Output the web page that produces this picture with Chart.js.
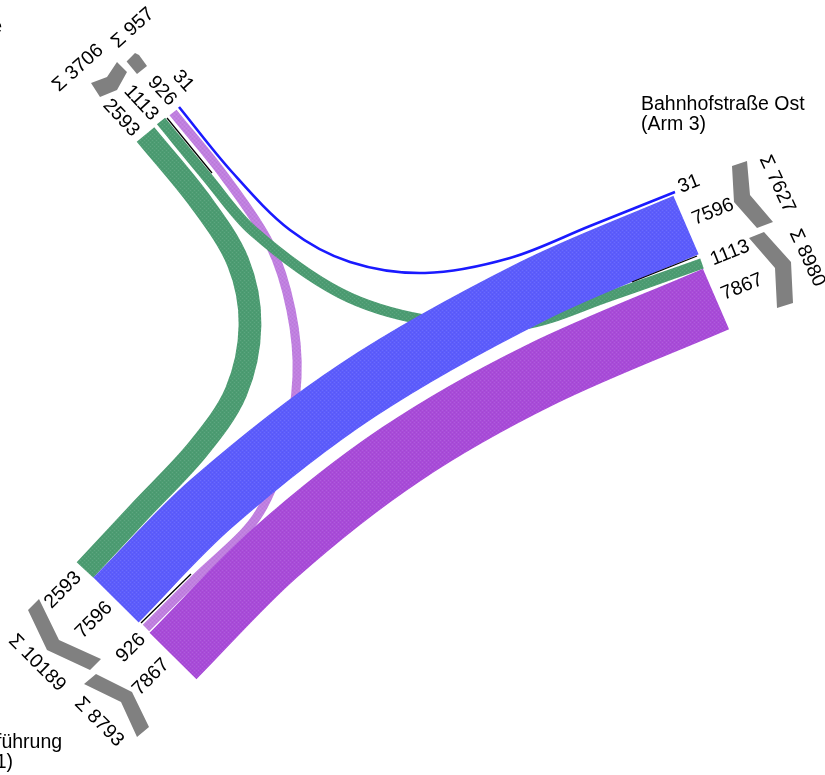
<!DOCTYPE html>
<html>
<head>
<meta charset="utf-8">
<title>Knotenstrom</title>
<script src="https://cdn.jsdelivr.net/npm/chart.js@4"></script>
<style>
  html, body { margin: 0; padding: 0; background: #fff; overflow: hidden; }
  canvas { display: block; }
</style>
</head>
<body>
<canvas id="flowChart" width="825" height="775"></canvas>
<script>
// Flow volumes, in drawing order (last one ends up on top)
const flowNames = ['Arm 2 - Arm 1 (926)', 'Arm 2 - Arm 3 (1113)', 'Arm 1 - Arm 2 (2593)', 'Arm 3 - Arm 2 (31)', 'Arm 3 - Arm 1 (7867)', 'Arm 1 - Arm 3 (7596)'];
const flowValues = [926, 1113, 2593, 31, 7867, 7596];
const flowColors = ['#c07fe0', '#4c9c72', '#4c9c72', '#1a1aff', '#a84bd8', '#5c5cfc'];

// Centre lines of the flows, in plot units
const route926 = [[173, 112.5], [225, 177], [270, 245], [291, 310], [297, 377], [285, 450], [256, 518], [195, 579], [146, 628]];
const route1113 = [[161, 121], [207, 177], [253, 231], [340, 293], [425, 320], [520, 325], [610, 296], [702, 263.5]];
const route2593 = [[145.5, 134.5], [200, 201], [238, 262], [250, 325], [236, 392], [198, 449], [140, 511], [85, 570]];
const route31 = [[179, 107], [232, 172], [290, 230], [350, 262], [425, 273], [510, 258], [590, 226], [675, 192]];
const route7867 = [[173, 656], [275, 553], [400, 455], [540, 375], [716, 299]];
const route7596 = [[116, 600], [212, 503], [358, 390], [533, 291], [686, 225]];
const flowRoutes = [route926, route1113, route2593, route31, route7867, route7596];

// Black separators between the directions of each arm
const separators = [
  [[167, 118], [212, 173]],
  [[141, 623], [191, 574]],
  [[632, 282], [697, 256]]
];

// Grey arm totals, outlines in plot units
const sumValues = [3706, 957, 7627, 8980, 10189, 8793];
const sumShapes = [
  [[91, 83], [107, 77], [117, 62], [127, 72], [117, 90], [100, 97]],
  [[126.6, 61.6], [135, 53], [139, 55], [147, 66], [137, 74]],
  [[732, 166], [747, 161], [750, 195], [773, 222], [757, 228], [734, 202]],
  [[749, 238], [764, 232], [791, 262], [793, 303], [777, 308], [775, 268]],
  [[28, 610], [39, 599], [59, 640], [101, 659], [90, 670], [47, 650]],
  [[84, 684], [96, 674], [132, 692], [149, 727], [137, 737], [121, 702]]
];

// Rotated labels: text, x, y, angle
const numberLabels = [
  ['2593', 121, 118, 47], ['1113', 141, 103, 47], ['926', 162, 91, 47], ['31', 183, 81, 47],
  ['31', 689, 184, -22], ['7596', 713, 212, -22], ['1113', 730, 253, -22], ['7867', 742, 287, -22],
  ['2593', 63, 590, -45], ['7596', 94, 620, -45], ['926', 131, 648, -45], ['7867', 151, 677, -45]
];
const sumLabels = [
  ['Σ 3706', 78, 68, -42], ['Σ 957', 133, 28, -42],
  ['Σ 7627', 777, 184, 65], ['Σ 8980', 807, 258, 65],
  ['Σ 10189', 37, 663, 45], ['Σ 8793', 99, 722, 45]
];
const armLabels = [
  ['Bahnhofstraße Ost', 641, 110, 'left'], ['(Arm 3)', 641, 130, 'left'],
  ['führung', -4, 748, 'left'], ['(Arm 1)', 13, 768, 'right'],
  ['e', 2, 33, 'right']
];

// Fine dither like the original print raster
function raster(color) {
  const tile = document.createElement('canvas');
  tile.width = 4;
  tile.height = 4;
  const c = tile.getContext('2d');
  c.fillStyle = color;
  c.fillRect(0, 0, 4, 4);
  c.fillStyle = 'rgba(255,255,255,0.10)';
  c.fillRect(0, 0, 1, 1);
  c.fillRect(2, 2, 1, 1);
  c.fillStyle = 'rgba(0,0,0,0.04)';
  c.fillRect(2, 0, 1, 1);
  c.fillRect(0, 2, 1, 1);
  return c.createPattern(tile, 'repeat');
}

function toPoints(route) {
  return route.map(function(p) { return { x: p[0], y: p[1] }; });
}

// very small flows still get a visible line
function bandWidth(v) {
  return Math.max(2.6, 1.5 + v * 0.0082);
}

const datasets = [];
flowValues.forEach(function(v, i) {
  datasets.push({
    label: flowNames[i],
    data: toPoints(flowRoutes[i]),
    borderColor: v < 100 ? flowColors[i] : raster(flowColors[i]),
    borderWidth: bandWidth(v),
    tension: 0.33,
    order: 100 - i
  });
});
separators.forEach(function(s) {
  datasets.push({ data: toPoints(s), borderColor: '#000', borderWidth: 1.3, tension: 0, order: 50 });
});
sumValues.forEach(function(v, i) {
  datasets.push({
    label: 'Σ ' + v,
    data: toPoints(sumShapes[i]),
    borderWidth: 0,
    backgroundColor: '#808080',
    fill: 'shape',
    tension: 0,
    order: 50
  });
});

const textPlugin = {
  id: 'flowText',
  afterDatasetsDraw: function(chart) {
    const ctx = chart.ctx;
    const x = chart.scales.x;
    const y = chart.scales.y;
    ctx.save();
    ctx.fillStyle = '#000';
    ctx.font = '19.5px "Liberation Sans"';
    numberLabels.concat(sumLabels).forEach(function(l) {
      ctx.save();
      ctx.translate(x.getPixelForValue(l[1]), y.getPixelForValue(l[2]));
      ctx.rotate(l[3] * Math.PI / 180);
      ctx.textAlign = 'center';
      ctx.textBaseline = 'middle';
      ctx.fillText(l[0], 0, 0);
      ctx.restore();
    });
    armLabels.forEach(function(l) {
      ctx.textAlign = l[3];
      ctx.fillText(l[0], x.getPixelForValue(l[1]), y.getPixelForValue(l[2]));
    });
    ctx.restore();
  }
};

new Chart(document.getElementById('flowChart').getContext('2d'), {
  type: 'scatter',
  data: { datasets: datasets },
  options: {
    responsive: false,
    animation: false,
    showLine: true,
    layout: { padding: 0 },
    elements: { point: { radius: 0 }, line: { borderCapStyle: 'butt' } },
    plugins: { legend: { display: false }, tooltip: { enabled: false } },
    scales: {
      x: { type: 'linear', display: false, min: 0, max: 825 },
      y: { type: 'linear', display: false, min: 0, max: 775, reverse: true }
    }
  },
  plugins: [textPlugin]
});
</script>
</body>
</html>
